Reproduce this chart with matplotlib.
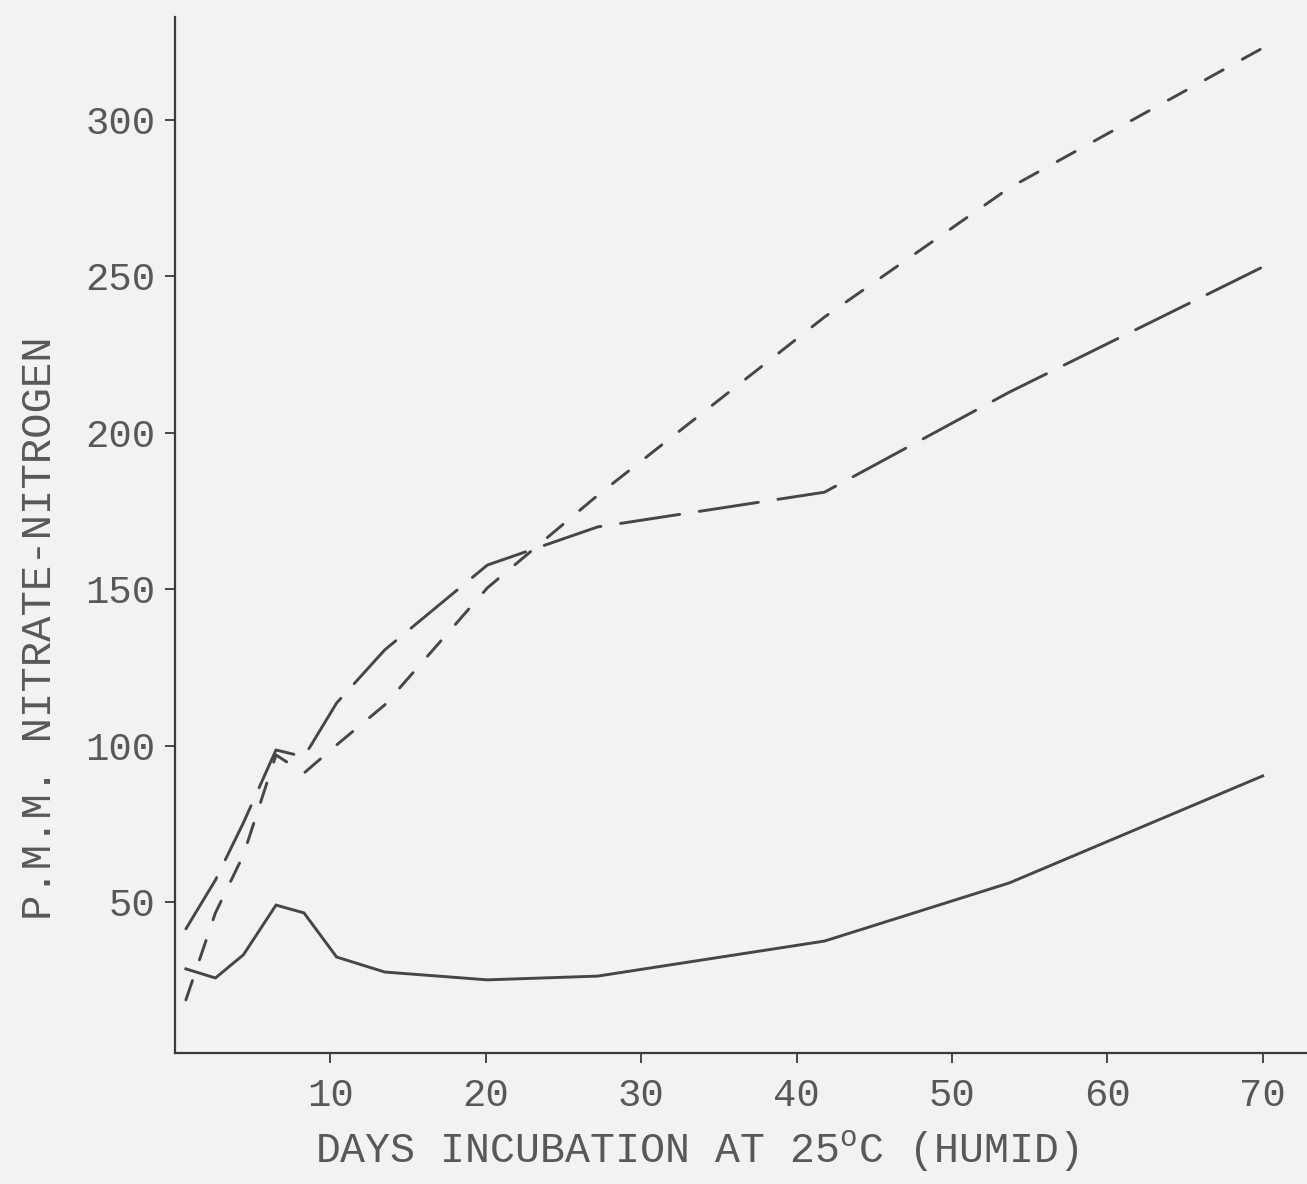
import matplotlib
matplotlib.use("Agg")
import matplotlib.pyplot as plt

# days of incubation
days = [0.7, 2.6, 4.4, 6.5, 8.3, 10.4, 13.5, 20.1, 27.2, 41.8, 53.7, 70]

# p.p.m. nitrate-nitrogen for the three curves
solid_vals = [28.6, 25.7, 33.1, 49.0, 46.5, 32.4, 27.6, 25.1, 26.3, 37.5, 56.1, 90.3]
long_dash_vals = [41.4, 57.0, 75.3, 98.6, 96.4, 113.6, 130.6, 157.7, 169.9, 181.0, 213.0, 253.0]
short_dash_vals = [18.7, 46.5, 65.0, 97.0, 91.2, 100.2, 113.0, 150.4, 180.0, 237.0, 278.3, 323.0]

x_ticks = [10, 20, 30, 40, 50, 60, 70]
y_ticks = [50, 100, 150, 200, 250, 300]

plt.rcParams['font.family'] = ['Liberation Mono', 'DejaVu Sans']
plt.rcParams['mathtext.fontset'] = 'custom'
plt.rcParams['mathtext.rm'] = 'Liberation Mono'

paper = '#f2f2f2'
ink = '#464646'
text_ink = '#585858'

fig = plt.figure(figsize=(13.07, 11.84), dpi=100, facecolor=paper)
ax = fig.add_axes([0.1339, 0.1106, 0.8661, 0.875])
ax.set_facecolor(paper)

ax.plot(days, solid_vals, color=ink, lw=2.1, solid_joinstyle='miter')
ax.plot(days, long_dash_vals, color=ink, lw=2.1, dashes=(20.5, 6.8), dash_capstyle='round')
ax.plot(days, short_dash_vals, color=ink, lw=2.1, dashes=(7, 7.5), dash_capstyle='round')

ax.set_xlim(0, 72.85)
ax.set_ylim(1.7, 332.9)

for side in ['top', 'right']:
    ax.spines[side].set_visible(False)
for side in ['left', 'bottom']:
    ax.spines[side].set_color('#3a3a3a')
    ax.spines[side].set_linewidth(1.6)

ax.set_xticks(x_ticks)
ax.set_yticks(y_ticks)
ax.tick_params(axis='both', direction='out', length=7, width=1.3, color='#3a3a3a',
               labelsize=28, labelcolor=text_ink)
ax.tick_params(axis='x', pad=11)
ax.tick_params(axis='y', pad=7)

ax.set_xlabel('DAYS INCUBATION AT 25$^{\\rm o}$C (HUMID)', fontsize=30,
              color=text_ink, va='center')
ax.xaxis.set_label_coords(0.461, -0.095)
ax.set_ylabel('P.M.M. NITRATE-NITROGEN', fontsize=30.5, color=text_ink, va='center')
ax.yaxis.set_label_coords(-0.119, 0.41)

fig.savefig('out.png', dpi=100, facecolor=paper)
